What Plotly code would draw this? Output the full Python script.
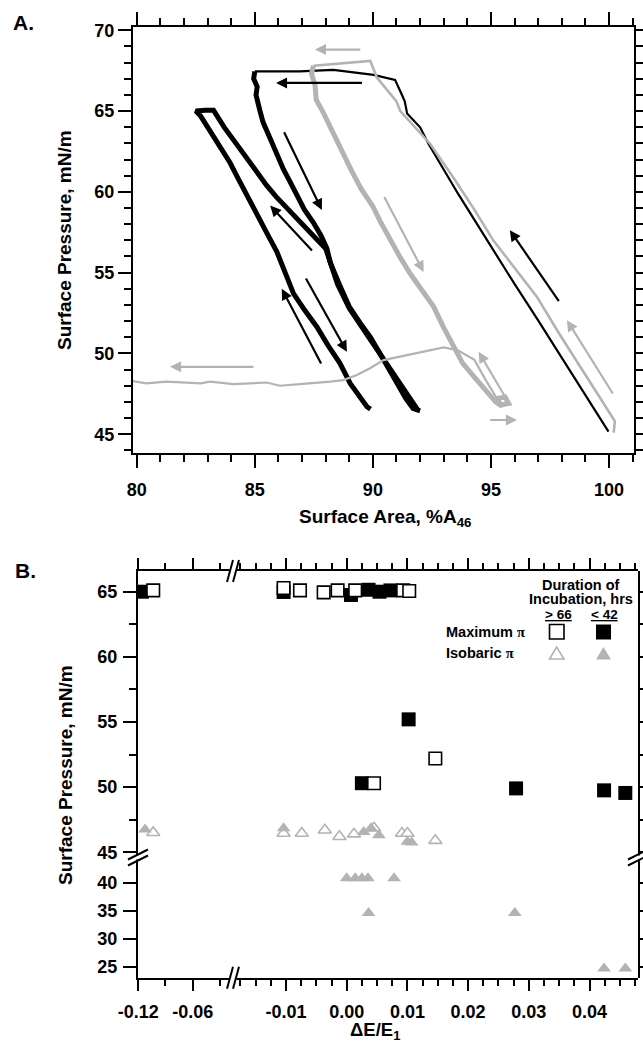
import plotly.graph_objects as go

W, H = 643, 1042
BLACK = "#000000"
GRAY = "#b3b3b3"
CLEAR = "rgba(0,0,0,0)"
FONT = "Liberation Sans, Arial, sans-serif"

# ---------------- Panel A: surface pressure / surface area cycles ----------------
# first compression (black) up to the collapse plateau
a_black_comp_x = [99.98, 99.0, 98.0, 97.0, 96.0, 94.83, 93.6, 92.36, 92.0, 91.45, 91.35, 91.2,
                  90.94, 90.03, 88.33, 86.9, 85.0]
a_black_comp_y = [45.16, 47.45, 49.75, 52.05, 54.3, 57.0, 59.9, 62.96, 63.99, 64.85, 65.6, 66.1,
                  66.93, 67.24, 67.55, 67.45, 67.45]
# first expansion (black)
a_black_exp1_x = [85.0, 84.95, 85.1, 85.05, 85.22, 85.35, 85.65, 85.9, 86.21, 86.5, 86.78, 87.1,
                  87.48, 87.8, 88.05, 88.2, 88.6, 89.0, 89.45, 89.9, 90.3, 90.7, 91.05, 91.4,
                  91.7, 92.0]
a_black_exp1_y = [67.45, 67.0, 66.5, 66.0, 65.0, 64.3, 63.3, 62.4, 61.4, 60.6, 59.8, 58.9,
                  58.1, 57.3, 56.5, 55.6, 54.2, 52.9, 51.9, 51.0, 50.0, 49.0, 48.0, 47.2,
                  46.6, 46.45]
# second cycle (black): compression, collapse at 65 mN/m, expansion
a_black_cyc2_x = [91.9, 91.3, 90.6, 89.8, 89.0, 88.5, 88.0, 87.6, 87.2, 86.8, 86.36, 85.9, 85.5,
                  85.1, 84.66, 84.3, 84.0, 83.7, 83.4, 83.25, 82.9, 82.5, 82.7, 83.0, 83.3,
                  83.65, 83.95, 84.3, 84.66, 84.95, 85.22, 85.6, 85.93, 86.3, 86.64, 87.1,
                  87.63, 88.1, 88.6, 89.04, 89.4, 89.75, 89.9]
a_black_cyc2_y = [46.5, 47.8, 49.4, 51.0, 52.8, 54.3, 56.5, 57.1, 57.7, 58.4, 59.0, 59.7, 60.4,
                  61.2, 62.0, 62.7, 63.4, 64.0, 64.7, 65.05, 65.05, 65.0, 64.7, 64.0, 63.3,
                  62.6, 61.8, 60.8, 59.8, 59.0, 58.1, 57.2, 56.3, 55.0, 53.7, 52.7,
                  51.64, 50.5, 49.4, 48.15, 47.4, 46.7, 46.55]
# compression (gray) up to the collapse plateau
a_gray_comp_x = [100.2, 100.25, 99.6, 98.8, 97.9, 96.95, 96.0, 95.1, 94.3, 93.4, 92.43, 91.8,
                 91.16, 91.0, 90.6, 90.17, 89.89, 89.5, 89.04, 88.05, 87.48]
a_gray_comp_y = [45.1, 45.8, 47.3, 49.1, 51.2, 53.5, 55.3, 57.0, 58.9, 60.9, 62.96, 64.0,
                 65.0, 65.6, 66.3, 67.07, 68.1, 68.05, 68.0, 67.9, 67.8]
# expansion (gray)
a_gray_exp_x = [87.48, 87.4, 87.55, 87.6, 87.9, 88.2, 88.5, 88.75, 89.1, 89.5, 90.0, 90.3, 90.6,
                90.87, 91.15, 91.6, 92.1, 92.57, 93.0, 93.3, 93.8, 94.2, 94.5, 94.9, 95.2,
                95.4, 95.75, 95.6, 95.2, 95.5]
a_gray_exp_y = [67.8, 67.3, 66.6, 65.7, 64.9, 64.0, 63.0, 62.2, 61.3, 60.2, 59.1, 58.2, 57.4,
                56.6, 55.96, 54.9, 53.9, 52.9, 51.6, 50.8, 49.4, 48.7, 48.2, 47.5, 47.0,
                46.8, 46.9, 47.3, 47.2, 46.7]
# isobaric compression (gray)
a_gray_iso_x = [95.3, 94.8, 94.3, 93.6, 93.0, 91.8, 91.16, 90.45, 89.9, 89.32, 88.75, 88.19,
                86.92, 86.07, 85.5, 84.1, 83.1, 82.7, 81.27, 80.4, 79.6]
a_gray_iso_y = [47.1, 48.3, 49.6, 50.2, 50.37, 50.0, 49.83, 49.59, 49.1, 48.66, 48.35, 48.25,
                48.1, 48.0, 48.2, 48.1, 48.25, 48.15, 48.25, 48.15, 48.35]
# direction arrows: (tail x, tail y, head x, head y)
a_black_arrows = [(89.6, 66.74, 85.9, 66.74), (86.21, 63.78, 87.84, 58.87),
                  (87.48, 56.27, 85.65, 59.15), (87.84, 49.28, 86.14, 54.0),
                  (87.13, 54.73, 88.9, 50.1), (97.92, 53.14, 95.8, 57.63)]
a_gray_arrows = [(89.53, 68.8, 87.55, 68.8), (90.45, 59.77, 92.15, 55.04),
                 (85.01, 49.17, 81.41, 49.17), (95.6, 47.32, 94.48, 50.1),
                 (94.9, 45.88, 96.1, 45.88), (100.2, 47.43, 98.22, 52.06)]

area_ticks = [80, 85, 90, 95, 100]
pressure_ticks_a = [45, 50, 55, 60, 65, 70]

# ---------------- Panel B: pressures vs relative change in elasticity ----------------
max_open_x = [-0.1035, -0.0104, -0.0077, -0.0038, -0.0015, 0.0014, 0.0093, 0.0103, 0.0045, 0.0146]
max_open_y = [65.1, 65.28, 65.1, 64.95, 65.1, 65.1, 65.1, 65.05, 50.3, 52.2]
max_filled_x = [-0.116, -0.0104, 0.0007, 0.0036, 0.0054, 0.0072, 0.0102, 0.0025, 0.0279, 0.0424, 0.0459]
max_filled_y = [65.0, 64.98, 64.75, 65.15, 65.0, 65.1, 55.2, 50.3, 49.9, 49.75, 49.55]
iso_open_x = [-0.1035, -0.0104, -0.0074, -0.0036, -0.0012, 0.0012, 0.0045, 0.0091, 0.0100, 0.0146]
iso_open_y = [46.5, 46.45, 46.45, 46.7, 46.2, 46.4, 46.85, 46.45, 46.45, 45.9]
iso_filled_x = [-0.1126, -0.0104, 0.0028, 0.0040, 0.0053, 0.0100, 0.0107, 0.0000, 0.0014,
                0.0025, 0.0035, 0.0078, 0.0036, 0.0277, 0.0424, 0.0459]
iso_filled_y = [46.75, 46.85, 46.55, 46.85, 46.3, 45.8, 45.75, 40.8, 40.8,
                40.8, 40.8, 40.8, 34.6, 34.6, 24.7, 24.7]

de_ticks_left = [-0.12, -0.06]
de_ticks_left_text = ["-0.12", "-0.06"]
de_minor_left = [-0.09, -0.03]
de_ticks_right = [-0.01, 0.0, 0.01, 0.02, 0.03, 0.04]
de_ticks_right_text = ["-0.01", "0.00", "0.01", "0.02", "0.03", "0.04"]
pressure_ticks_b_upper = [45, 50, 55, 60, 65]
pressure_minor_b_upper = [47.5, 52.5, 57.5, 62.5]
pressure_ticks_b_lower = [25, 30, 35, 40]

X_SPLIT = -0.016   # gap in the ΔE/E1 axis
Y_SPLIT = 44.74    # gap in the pressure axis

# axis ranges and domains (pixels of the 643 x 1042 page)
A_X_RANGE, A_Y_RANGE = [79.84, 101.06], [43.82, 70.2]
B_XL_RANGE, B_XR_RANGE = [-0.1203, -0.0145], [-0.01857, 0.04799]
B_YU_RANGE, B_YL_RANGE = [44.71, 66.59], [23.04, 44.77]


def fx(p):
    return p / W


def fy(p):
    return 1 - p / H


A_X_DOM, A_Y_DOM = [fx(133), fx(634)], [fy(453.3), fy(27)]
B_XL_DOM, B_XR_DOM = [fx(138), fx(234)], [fx(234), fx(638)]
B_YU_DOM, B_YL_DOM = [fy(856), fy(571)], [fy(977.7), fy(856)]

fig = go.Figure()

# ---- Panel A curves ----
def line(xs, ys, color, width):
    fig.add_trace(go.Scatter(x=xs, y=ys, mode="lines", line=dict(color=color, width=width),
                             xaxis="x", yaxis="y", showlegend=False, hoverinfo="skip"))

line(a_black_comp_x, a_black_comp_y, BLACK, 2.2)
line(a_gray_comp_x, a_gray_comp_y, GRAY, 2.6)
line(a_black_exp1_x, a_black_exp1_y, BLACK, 5)
line(a_black_cyc2_x, a_black_cyc2_y, BLACK, 5)
line(a_gray_exp_x, a_gray_exp_y, GRAY, 5)
line(a_gray_iso_x, a_gray_iso_y, GRAY, 2.2)

annotations = []
for arrows, color in ((a_black_arrows, BLACK), (a_gray_arrows, GRAY)):
    for tx, ty, hx, hy in arrows:
        annotations.append(dict(x=hx, y=hy, ax=tx, ay=ty, xref="x", yref="y", axref="x", ayref="y",
                                text="", showarrow=True, arrowhead=2, arrowsize=1.0,
                                arrowwidth=2.2, arrowcolor=color))

# ---- Panel B markers ----
def add_series(xs, ys, marker):
    for xa, left in (("x2", True), ("x3", False)):
        for ya, upper in (("y2", True), ("y3", False)):
            sx, sy = [], []
            for x, y in zip(xs, ys):
                if (x < X_SPLIT) == left and (y > Y_SPLIT) == upper:
                    sx.append(x)
                    sy.append(y)
            if sx:
                fig.add_trace(go.Scatter(x=sx, y=sy, mode="markers", marker=marker, xaxis=xa,
                                         yaxis=ya, showlegend=False, cliponaxis=True,
                                         hoverinfo="skip"))

add_series(iso_open_x, iso_open_y, dict(symbol="triangle-up", size=11.5, color="white",
                                        line=dict(color=GRAY, width=1.6)))
add_series(iso_filled_x, iso_filled_y, dict(symbol="triangle-up", size=12, color=GRAY,
                                            line=dict(width=0)))
add_series(max_filled_x, max_filled_y, dict(symbol="square", size=14, color=BLACK,
                                            line=dict(width=0)))
add_series(max_open_x, max_open_y, dict(symbol="square", size=12.5, color="white",
                                        line=dict(color=BLACK, width=1.6)))

# empty traces so the frame axes and the tick-label axes get their own subplots
for xa, ya in (("x4", "y2"), ("x5", "y2"), ("x3", "y4"), ("x3", "y5"),
               ("x6", "y"), ("x7", "y3"), ("x8", "y3"), ("x2", "y6"), ("x2", "y7")):
    fig.add_trace(go.Scatter(x=[], y=[], xaxis=xa, yaxis=ya, showlegend=False,
                             hoverinfo="skip"))

# ---- axes ----
tick_font = dict(family=FONT, size=18, color=BLACK, weight="bold")
base = dict(showline=True, linecolor=BLACK, linewidth=2, ticks="outside", tickcolor=BLACK,
            tickwidth=2, showgrid=False, zeroline=False, tickfont=tick_font, autorange=False,
            automargin=False)
# axes that only carry tick labels (invisible ticks set the label distance)
label_base = dict(showline=False, ticks="outside", tickcolor=CLEAR, tickwidth=1,
                  showgrid=False, zeroline=False, tickfont=tick_font, autorange=False,
                  automargin=False, tickmode="array")


def minor_ticks(length, **kw):
    return dict(ticks="outside", ticklen=length, tickwidth=2, tickcolor=BLACK, showgrid=False,
                **kw)


layout_axes = dict(
    # panel A frame
    xaxis=dict(base, domain=A_X_DOM, range=A_X_RANGE, anchor="y", tickmode="array",
               tickvals=area_ticks, showticklabels=False, ticklen=13, mirror="ticks",
               minor=minor_ticks(7, dtick=1, tick0=80)),
    yaxis=dict(base, domain=A_Y_DOM, range=A_Y_RANGE, anchor="x", tickmode="array",
               tickvals=pressure_ticks_a, ticktext=[str(v) for v in pressure_ticks_a],
               ticklen=13, mirror="ticks", minor=minor_ticks(7, dtick=1, tick0=45)),
    xaxis6=dict(label_base, domain=A_X_DOM, range=A_X_RANGE, anchor="y",
                tickvals=area_ticks, ticktext=[str(v) for v in area_ticks], ticklen=20),
    # panel B, left and right pieces of the broken ΔE/E1 axis
    xaxis2=dict(base, domain=B_XL_DOM, range=B_XL_RANGE, anchor="y3", tickmode="array",
                tickvals=de_ticks_left, showticklabels=False, ticklen=11,
                minor=minor_ticks(6, tickmode="array", tickvals=de_minor_left)),
    xaxis3=dict(base, domain=B_XR_DOM, range=B_XR_RANGE, anchor="y3", tickmode="array",
                tickvals=de_ticks_right, showticklabels=False, ticklen=11,
                minor=minor_ticks(6, dtick=0.0025, tick0=0)),
    xaxis7=dict(label_base, domain=B_XL_DOM, range=B_XL_RANGE, anchor="y3",
                tickvals=de_ticks_left, ticktext=de_ticks_left_text, ticklen=18),
    xaxis8=dict(label_base, domain=B_XR_DOM, range=B_XR_RANGE, anchor="y3",
                tickvals=de_ticks_right, ticktext=de_ticks_right_text, ticklen=18),
    xaxis4=dict(base, domain=B_XL_DOM, side="top", anchor="y2", range=B_XL_RANGE,
                tickmode="array", tickvals=de_ticks_left, showticklabels=False, ticklen=11,
                minor=minor_ticks(6, tickmode="array", tickvals=de_minor_left)),
    xaxis5=dict(base, domain=B_XR_DOM, side="top", anchor="y2", range=B_XR_RANGE,
                tickmode="array", tickvals=de_ticks_right, showticklabels=False, ticklen=11,
                minor=minor_ticks(6, dtick=0.0025, tick0=0)),
    # panel B, upper and lower pieces of the broken pressure axis
    yaxis2=dict(base, domain=B_YU_DOM, range=B_YU_RANGE, anchor="x2", tickmode="array",
                tickvals=pressure_ticks_b_upper, showticklabels=False, ticklen=13,
                minor=minor_ticks(7, tickmode="array", tickvals=pressure_minor_b_upper)),
    yaxis3=dict(base, domain=B_YL_DOM, range=B_YL_RANGE, anchor="x2", tickmode="array",
                tickvals=pressure_ticks_b_lower, showticklabels=False, ticklen=13),
    yaxis6=dict(label_base, domain=B_YU_DOM, range=B_YU_RANGE, anchor="x2",
                tickvals=pressure_ticks_b_upper,
                ticktext=[str(v) for v in pressure_ticks_b_upper], ticklen=16),
    yaxis7=dict(label_base, domain=B_YL_DOM, range=B_YL_RANGE, anchor="x2",
                tickvals=pressure_ticks_b_lower,
                ticktext=[str(v) for v in pressure_ticks_b_lower], ticklen=16),
    yaxis4=dict(base, domain=B_YU_DOM, side="right", anchor="x3", range=B_YU_RANGE,
                tickmode="array", tickvals=pressure_ticks_b_upper + pressure_minor_b_upper,
                showticklabels=False, ticklen=8),
    yaxis5=dict(base, domain=B_YL_DOM, side="right", anchor="x3", range=B_YL_RANGE,
                tickmode="array", tickvals=pressure_ticks_b_lower, showticklabels=False,
                ticklen=8),
)

# ---- text ----
def text(label, x, y, size, angle=0, xanchor="center"):
    annotations.append(dict(text=label, x=fx(x), y=fy(y), xref="paper", yref="paper",
                            showarrow=False, textangle=angle, xanchor=xanchor, yanchor="middle",
                            font=dict(family=FONT, size=size, color=BLACK, weight="bold")))

PI = '<span style="font-family:Liberation Serif">π</span>'
text("A.", 23, 23, 21)
text("B.", 25, 570, 21)
text("Surface Pressure, mN/m", 65, 240, 19, angle=-90)
text("Surface Area, %A<sub>46</sub>", 385, 518, 19)
text("Surface Pressure, mN/m", 65, 775, 19, angle=-90)
text("ΔE/E<sub>1</sub>", 375, 1031, 18.5)
text("Duration of", 580, 585, 14.5)
text("Incubation, hrs", 581, 599, 14.5)
text("<u>&gt; 66</u>", 558, 614, 13.5)
text("<u>&lt; 42</u>", 604, 614, 13.5)
text("Maximum " + PI, 444, 632, 14.5, xanchor="left")
text("Isobaric " + PI, 444, 653, 14.5, xanchor="left")

# ---- shapes: legend keys and axis break marks ----
shapes = []


def poly(points, fill, line_color, line_width):
    path = "M " + " L ".join(f"{fx(a):.5f},{fy(b):.5f}" for a, b in points) + " Z"
    shapes.append(dict(type="path", path=path, xref="paper", yref="paper", fillcolor=fill,
                       line=dict(color=line_color, width=line_width), layer="above"))


def seg(x0, y0, x1, y1, color=BLACK, width=2):
    shapes.append(dict(type="line", x0=fx(x0), y0=fy(y0), x1=fx(x1), y1=fy(y1), xref="paper",
                       yref="paper", line=dict(color=color, width=width), layer="above"))


# legend keys
poly([(549.5, 624.5), (564, 624.5), (564, 639), (549.5, 639)], "white", BLACK, 1.6)
poly([(596, 624.5), (611, 624.5), (611, 639.5), (596, 639.5)], BLACK, BLACK, 0)
poly([(549.5, 659), (564, 659), (556.7, 647)], "white", GRAY, 1.6)
poly([(596, 659.5), (611, 659.5), (603.5, 647)], GRAY, GRAY, 0)

# breaks in the horizontal axes (top and bottom)
for ay in (571, 977.7):
    poly([(229.5, ay - 2.5), (236.5, ay - 2.5), (236.5, ay + 2.5), (229.5, ay + 2.5)], "white",
         "white", 0)
    seg(227, ay + 11, 233, ay - 11)
    seg(233, ay + 11, 239, ay - 11)
# breaks in the vertical axes (left and right)
for ax_ in (138, 638):
    poly([(ax_ - 2.5, 855.5), (ax_ + 2.5, 855.5), (ax_ + 2.5, 859.5), (ax_ - 2.5, 859.5)],
         "white", "white", 0)
    seg(ax_ - 10, 859.5, ax_ + 10, 849.5)
    seg(ax_ - 10, 865.5, ax_ + 10, 855.5)

fig.update_layout(
    width=W, height=H, autosize=False,
    margin=dict(l=0, r=0, t=0, b=0),
    paper_bgcolor="white", plot_bgcolor=CLEAR,
    showlegend=False,
    annotations=annotations,
    shapes=shapes,
    **layout_axes,
)

fig.write_html("out.html")
